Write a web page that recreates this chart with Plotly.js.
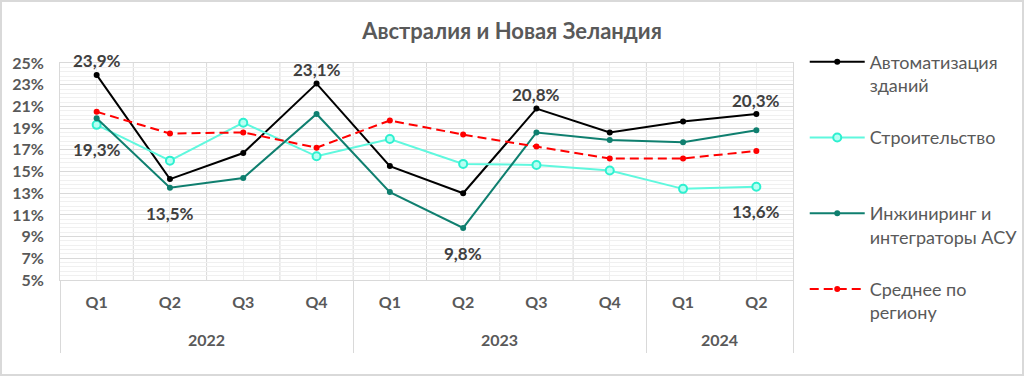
<!DOCTYPE html>
<html>
<head>
<meta charset="utf-8">
<script src="https://cdn.plot.ly/plotly-3.0.1.min.js"></script>
<style>
  html, body { margin: 0; padding: 0; background: #fff; }
  #wrap { position: relative; width: 1024px; height: 376px; }
  #chart { width: 1024px; height: 376px; }
  #frame { position: absolute; left: 0; top: 0; width: 1020px; height: 372px;
           border: 2px solid #d9d9d9; pointer-events: none; }
</style>
</head>
<body>
<div id="wrap"><div id="chart"></div><div id="frame"></div></div>
<script>
// ---- data ----
const quarters = ["Q1", "Q2", "Q3", "Q4", "Q1", "Q2", "Q3", "Q4", "Q1", "Q2"];
const yearOfPoint = ["2022", "2022", "2022", "2022", "2023", "2023", "2023", "2023", "2024", "2024"];
const years = ["2022", "2023", "2024"];

const seriesNames = [
  "Автоматизация<br>зданий",
  "Строительство<br> ",
  "Инжиниринг и<br>интеграторы АСУ",
  "Среднее по<br>региону"
];
const automation   = [23.9, 14.3, 16.7, 23.1, 15.5, 13.0, 20.8, 18.6, 19.6, 20.3];
const construction = [19.3, 16.0, 19.5, 16.4, 18.0, 15.7, 15.6, 15.1, 13.4, 13.6];
const engineering  = [19.9, 13.5, 14.4, 20.3, 13.1,  9.8, 18.6, 17.9, 17.7, 18.8];
const regionAvg    = [20.5, 18.5, 18.6, 17.2, 19.7, 18.4, 17.3, 16.2, 16.2, 16.9];

// which points carry a value label (index lists) and on which side
const automationLabels   = [0, 3, 6, 9];   // above
const constructionLabels = [0, 9];         // below
const engineeringLabels  = [1, 5];         // below

const yTicks = [5, 7, 9, 11, 13, 15, 17, 19, 21, 23, 25];

// ---- build ----
const xIdx = quarters.map((_, i) => i);
const FONT = "Lato, 'Open Sans', sans-serif";

function mk(name, y, color, opts) {
  return Object.assign({
    type: "scatter", mode: "lines+markers", name: name, x: xIdx, y: y,
    legendgroup: name, hoverinfo: "skip", cliponaxis: false,
    line: { color: color, width: 2 },
    marker: { color: color, size: 6 }
  }, opts || {});
}

const traces = [
  mk(seriesNames[0], automation, "#000000"),
  mk(seriesNames[1], construction, "#5ff8de", {
    marker: { color: "#b8fff3", size: 8, line: { color: "#2ef0d0", width: 2 } }
  }),
  mk(seriesNames[2], engineering, "#0f7f6f"),
  mk(seriesNames[3], regionAvg, "#ff0000", { line: { color: "#ff0000", width: 2, dash: "9px,5px" } })
];

const fmt = v => v.toFixed(1).replace(".", ",") + "%";
const annotations = [];
function addLabels(idxs, series, shift) {
  idxs.forEach(i => annotations.push({
    x: xIdx[i], y: series[i], xref: "x", yref: "y", text: fmt(series[i]),
    showarrow: false, yshift: shift,
    font: { family: FONT, size: 17, color: "#404040", weight: "bold" }
  }));
}
addLabels(automationLabels, automation, 14);
addLabels(constructionLabels, construction, -25);
addLabels(engineeringLabels, engineering, -26);

// year labels centered under their quarters
years.forEach(yr => {
  const idx = xIdx.filter(i => yearOfPoint[i] === yr);
  const cx = (idx[0] + idx[idx.length - 1]) / 2;
  annotations.push({
    x: cx, y: -0.325, xref: "x", yref: "paper", text: yr, showarrow: false,
    font: { family: FONT, size: 16, color: "#595959", weight: "bold" }
  });
});

// year divider positions and inner category boundaries
const yearBounds = [-0.5];
years.forEach(yr => {
  const idx = xIdx.filter(i => yearOfPoint[i] === yr);
  yearBounds.push(idx[idx.length - 1] + 0.5);
});
const shapes = [];
for (let i = 0; i < xIdx.length - 1; i++) {
  shapes.push({
    type: "line", xref: "x", yref: "paper", x0: i + 0.5, x1: i + 0.5, y0: 0, y1: 1,
    layer: "below", line: { color: "#d9d9d9", width: 1 }
  });
}

const layout = {
  width: 1024, height: 376,
  margin: { l: 60, r: 231, t: 63, b: 96, autoexpand: false },
  paper_bgcolor: "#ffffff", plot_bgcolor: "#ffffff",
  font: { family: FONT, color: "#595959" },
  title: {
    text: "<b>Австралия и Новая Зеландия</b>",
    x: 0.5, xref: "container", y: 0.918, yref: "container",
    xanchor: "center", yanchor: "middle",
    font: { family: FONT, size: 22, color: "#595959" }
  },
  showlegend: true,
  legend: {
    x: 1.016, xanchor: "left", y: 1.09, yanchor: "top",
    font: { family: FONT, size: 18, color: "#595959" },
    itemwidth: 55, tracegroupgap: 26, valign: "top", maxheight: 400,
    bgcolor: "rgba(0,0,0,0)"
  },
  xaxis: {
    range: [-0.5, 9.5], tickmode: "array", tickvals: xIdx, ticktext: quarters,
    showgrid: true, gridcolor: "#efefef", gridwidth: 1, zeroline: false,
    ticks: "", ticklabelstandoff: 8,
    tickfont: { family: FONT, size: 16, color: "#595959", weight: "bold" },
    showline: true, mirror: true, linecolor: "#d9d9d9", linewidth: 1,
    minor: { tickmode: "array", tickvals: yearBounds, ticks: "outside", ticklen: 72,
             tickcolor: "#d9d9d9", tickwidth: 1, showgrid: false },
    fixedrange: true
  },
  yaxis: {
    range: [5, 25], tickmode: "array", tickvals: yTicks, ticktext: yTicks.map(v => v + "%"),
    showgrid: true, gridcolor: "#d9d9d9", gridwidth: 1, zeroline: false,
    ticks: "", ticklabelstandoff: 12,
    tickfont: { family: FONT, size: 16, color: "#595959", weight: "bold" },
    showline: true, mirror: true, linecolor: "#d9d9d9", linewidth: 1,
    minor: { dtick: 0.4, tick0: 5, showgrid: true, gridcolor: "#f0f0f0", gridwidth: 1 },
    fixedrange: true
  },
  annotations: annotations,
  shapes: shapes,
  hovermode: false
};

Plotly.newPlot("chart", traces, layout, { staticPlot: true, displayModeBar: false });
</script>
</body>
</html>
